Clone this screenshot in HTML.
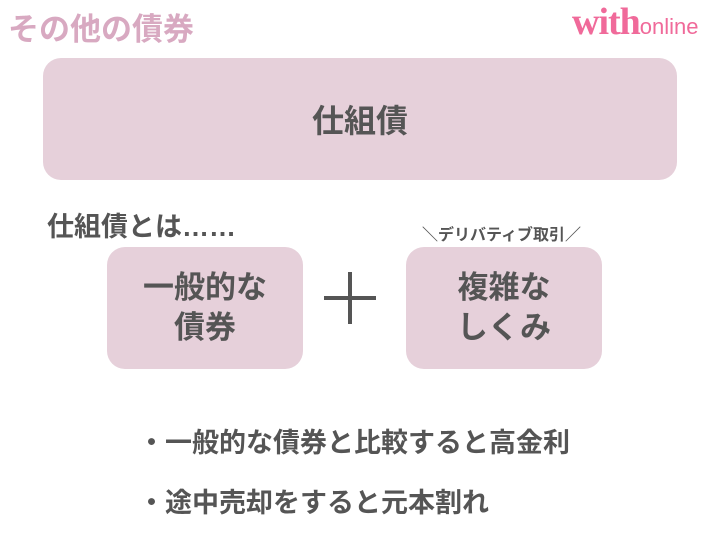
<!DOCTYPE html>
<html><head><meta charset="utf-8"><style>
*{margin:0;padding:0}
body{width:720px;height:540px;background:#fff;position:relative;overflow:hidden;font-family:"Liberation Sans","Noto Sans CJK JP",sans-serif;font-weight:bold;color:#555}
.a{position:absolute;white-space:nowrap}
.box{position:absolute;background:#e6d0da;border-radius:18px;display:flex;align-items:center;justify-content:center;text-align:center;color:#555}
</style></head><body>
<div class="a" style="left:8px;top:4px;font-size:31px;color:#d8a9c1">その他の債券</div>
<div class="a" style="left:572px;top:2px;color:#f06a9a;font-family:'Liberation Serif',serif;font-size:38px;line-height:40px;letter-spacing:-1px">with<span style="font-family:'Liberation Sans',sans-serif;font-weight:normal;font-size:22px;letter-spacing:0">online</span></div>
<div class="box" style="left:43px;top:58px;width:634px;height:122px;font-size:32px">仕組債</div>
<div class="a" style="left:47px;top:205px;font-size:27px;color:#555">仕組債とは……</div>
<div class="box" style="left:107px;top:247px;width:196px;height:122px;font-size:31px;line-height:40px">一般的な<br>債券</div>
<div class="a" style="left:324px;top:296px;width:52px;height:4px;background:#555"></div>
<div class="a" style="left:348px;top:272px;width:4px;height:52px;background:#555"></div>
<div class="box" style="left:406px;top:247px;width:196px;height:122px;font-size:31px;line-height:40px">複雑な<br>しくみ</div>
<div class="a" style="left:422px;top:226px;font-size:16px;line-height:20px;color:#555;z-index:2">＼デリバティブ取引／</div>
<div class="a" style="left:138px;top:421px;font-size:27px">・一般的な債券と比較すると高金利</div>
<div class="a" style="left:138px;top:481px;font-size:27px">・途中売却をすると元本割れ</div>
</body></html>
